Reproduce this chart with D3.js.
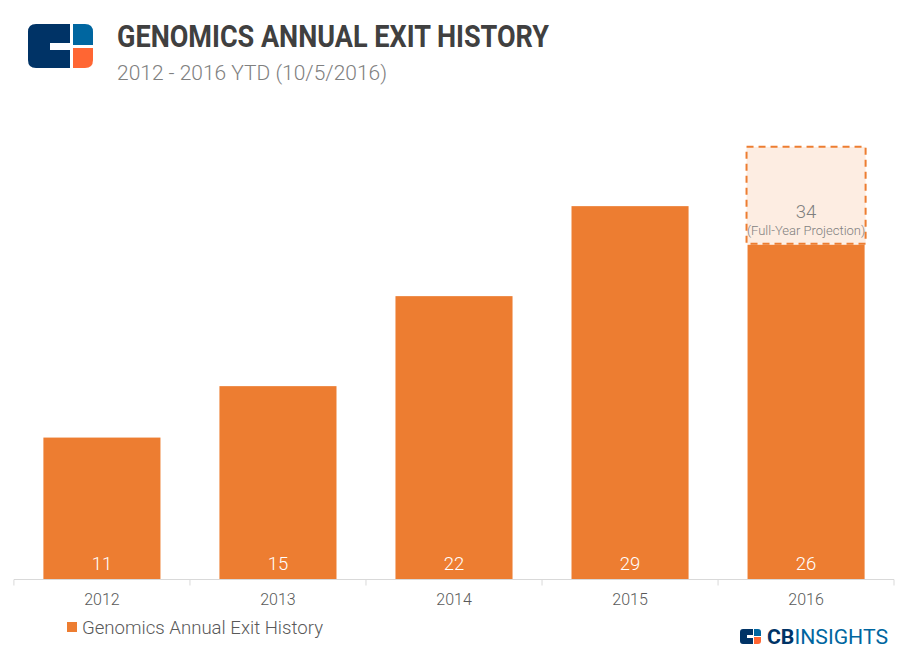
<!DOCTYPE html>
<meta charset="utf-8">
<head>
<style>
    body { margin: 0; background: #fff; }
    text { font-family: Roboto, "Noto Sans", sans-serif; }
</style>
</head>
<body>
<div id="chart"></div>
<script src="https://d3js.org/d3.v7.min.js"></script>
<script>
    // data
    let years = ['2012', '2013', '2014', '2015', '2016'];
    let exits = [11, 15, 22, 29, 26];
    let projYear = '2016';
    let projValue = 34;
    let seriesName = 'Genomics Annual Exit History';

    let svgWidth = 909;
    let svgHeight = 659;
    let orange = '#ED7D31';

    let svg = d3.select('#chart')
        .append('svg')
        .attr('width', svgWidth)
        .attr('height', svgHeight);

    // scales
    let x = d3.scaleBand()
        .domain(years)
        .range([14, 894])
        .paddingInner(0.335)
        .paddingOuter(0.167);
    let y = d3.scaleLinear()
        .domain([0, 35])
        .range([579, 129]);

    // header logo
    let logo = svg.append('g').attr('transform', 'translate(28, 24)');
    logo.append('path')
        .attr('d', 'M8,0 H42 V19 H22 V26 H42 V44 H8 Q0,44 0,36 V8 Q0,0 8,0 Z')
        .attr('fill', '#003366');
    logo.append('path')
        .attr('d', 'M45,0 H57 Q65,0 65,8 V21 H45 Z')
        .attr('fill', '#0066A0');
    logo.append('path')
        .attr('d', 'M45,24 H65 V36 Q65,44 57,44 H45 Z')
        .attr('fill', '#FF6633');

    svg.append('text')
        .attr('x', 117).attr('y', 47)
        .attr('font-size', 31).attr('font-weight', 'bold')
        .attr('fill', '#404040')
        .attr('textLength', 432).attr('lengthAdjust', 'spacingAndGlyphs')
        .text('GENOMICS ANNUAL EXIT HISTORY');
    svg.append('text')
        .attr('x', 117).attr('y', 80)
        .attr('font-size', 20.5).attr('font-weight', 300)
        .attr('fill', '#808080')
        .attr('textLength', 270).attr('lengthAdjust', 'spacingAndGlyphs')
        .text('2012 - 2016 YTD (10/5/2016)');

    // projection box
    svg.append('rect')
        .attr('x', x(projYear) - 1)
        .attr('y', y(projValue) + 5)
        .attr('width', x.bandwidth() + 2)
        .attr('height', y(exits[years.indexOf(projYear)]) - y(projValue) - 6)
        .attr('fill', '#FDEDE2')
        .attr('stroke', orange)
        .attr('stroke-width', 2)
        .attr('stroke-dasharray', '7,5');

    // bars
    svg.selectAll('.bar')
        .data(years)
        .enter()
        .append('rect')
        .attr('class', 'bar')
        .attr('x', d => x(d))
        .attr('y', (d, i) => y(exits[i]))
        .attr('width', x.bandwidth())
        .attr('height', (d, i) => y(0) - y(exits[i]))
        .attr('fill', orange);

    // value labels
    svg.selectAll('.val')
        .data(years)
        .enter()
        .append('text')
        .attr('x', d => x(d) + x.bandwidth() / 2)
        .attr('y', 570)
        .attr('text-anchor', 'middle')
        .attr('font-size', 18.5).attr('font-weight', 300)
        .attr('fill', '#fff')
        .text((d, i) => exits[i]);

    let cx = x(projYear) + x.bandwidth() / 2;
    svg.append('text')
        .attr('x', cx).attr('y', 218)
        .attr('text-anchor', 'middle')
        .attr('font-size', 18.5).attr('font-weight', 300)
        .attr('fill', '#7f7f7f')
        .text(projValue);
    svg.append('text')
        .attr('x', cx).attr('y', 235)
        .attr('text-anchor', 'middle')
        .attr('font-size', 13).attr('font-weight', 300)
        .attr('fill', '#7f7f7f')
        .text('(Full-Year Projection)');

    // x axis
    let axis = svg.append('g')
        .attr('transform', `translate(0, ${y(0) + 0.5})`)
        .call(d3.axisBottom(x).tickSize(0).tickPadding(14));
    axis.select('.domain').attr('stroke', '#d9d9d9').attr('d', 'M14,0H894');
    axis.selectAll('text')
        .attr('font-size', 16).attr('font-weight', 300)
        .attr('fill', '#595959')
        .style('font-family', 'Roboto, sans-serif');
    let edges = x.domain().map(d => x(d) - x.step() * x.paddingInner() / 2);
    edges.push(894);
    axis.selectAll('.edge')
        .data(edges)
        .enter()
        .append('line')
        .attr('x1', d => d).attr('x2', d => d)
        .attr('y1', 0).attr('y2', 6)
        .attr('stroke', '#d9d9d9');

    // legend
    svg.append('rect')
        .attr('x', 67).attr('y', 622)
        .attr('width', 10).attr('height', 10)
        .attr('fill', orange);
    svg.append('text')
        .attr('x', 82).attr('y', 634)
        .attr('font-size', 18.5).attr('font-weight', 300)
        .attr('fill', '#595959')
        .attr('textLength', 241).attr('lengthAdjust', 'spacingAndGlyphs')
        .text(seriesName);

    // CB Insights footer logo
    let foot = svg.append('g').attr('transform', 'translate(740, 629)');
    foot.append('path')
        .attr('d', 'M3,0 H13 V6 H7 V9 H13 V15 H3 Q0,15 0,12 V3 Q0,0 3,0 Z')
        .attr('fill', '#003366');
    foot.append('path')
        .attr('d', 'M14,0 H18 Q21,0 21,3 V7 H14 Z')
        .attr('fill', '#0066A0');
    foot.append('path')
        .attr('d', 'M14,8 H21 V12 Q21,15 18,15 H14 Z')
        .attr('fill', '#FF6633');
    let brand = svg.append('text')
        .attr('x', 767).attr('y', 644)
        .attr('font-size', 21)
        .attr('textLength', 121).attr('lengthAdjust', 'spacingAndGlyphs');
    brand.append('tspan').attr('font-weight', 'bold').attr('fill', '#003366').text('CB');
    brand.append('tspan').attr('font-weight', 400).attr('fill', '#0066A0').text('INSIGHTS');
</script>
</body>
